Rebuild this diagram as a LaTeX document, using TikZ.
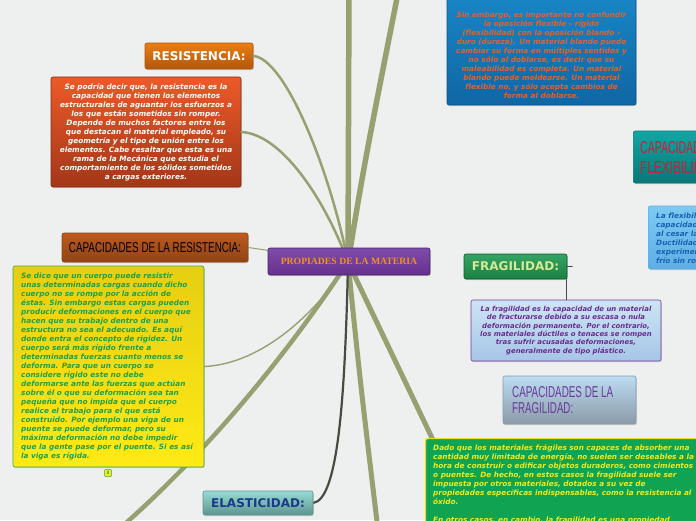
\documentclass[tikz,border=0pt]{standalone}
\usepackage{fontspec}
\usepackage{graphicx}
\setmainfont{DejaVu Sans}
\newfontfamily\tnr{Liberation Serif}
\newfontfamily\hnd{Liberation Sans}
\usetikzlibrary{shadows}
\definecolor{bgc}{HTML}{EEF0EF}
\definecolor{olivec}{HTML}{96A070}
\definecolor{darkc}{HTML}{4A4A42}
\definecolor{resT}{HTML}{EC7E10}
\definecolor{resB}{HTML}{B0560E}
\definecolor{rtT}{HTML}{EC5A28}
\definecolor{rtB}{HTML}{A43618}
\definecolor{crT}{HTML}{BE5A1E}
\definecolor{crB}{HTML}{8E4416}
\definecolor{yelT}{HTML}{E6CE12}
\definecolor{yelB}{HTML}{FFEA16}
\definecolor{yelE}{HTML}{3AA648}
\definecolor{yelTx}{HTML}{1FA04A}
\definecolor{cenT}{HTML}{7E4CAA}
\definecolor{cenB}{HTML}{66308E}
\definecolor{cenTx}{HTML}{F2921E}
\definecolor{bluT}{HTML}{1A8ACA}
\definecolor{bluB}{HTML}{1066A4}
\definecolor{bluTx}{HTML}{E8602A}
\definecolor{flcT}{HTML}{12A6A6}
\definecolor{flcB}{HTML}{0A7676}
\definecolor{flcTx}{HTML}{C42232}
\definecolor{fltT}{HTML}{7CCAF2}
\definecolor{fltB}{HTML}{5EAEE6}
\definecolor{fltTx}{HTML}{1A62B0}
\definecolor{frT}{HTML}{34A464}
\definecolor{frB}{HTML}{1A8042}
\definecolor{frTx}{HTML}{D8E894}
\definecolor{ftT}{HTML}{CCE4F4}
\definecolor{ftB}{HTML}{A6C6E6}
\definecolor{ftE}{HTML}{7A3A98}
\definecolor{ftTx}{HTML}{6A2A90}
\definecolor{fcT}{HTML}{BCDCF2}
\definecolor{fcB}{HTML}{8A9AA8}
\definecolor{fcTx}{HTML}{6A3A9C}
\definecolor{grF}{HTML}{10A452}
\definecolor{grE}{HTML}{E6E020}
\definecolor{grTx}{HTML}{F2EA1E}
\definecolor{elT}{HTML}{96DCD4}
\definecolor{elB}{HTML}{5E948E}
\definecolor{elTx}{HTML}{1A3A8A}
\tikzset{
  box/.style={rounded corners=2pt, line width=0.6pt, inner sep=0pt,
    drop shadow={shadow xshift=0.8pt, shadow yshift=-1.2pt, opacity=0.3}},
  body/.style={font=\fontsize{7.3}{9}\selectfont\bfseries\itshape, inner sep=0pt},
  title/.style={font=\fontsize{12}{12}\selectfont\bfseries},
  olive/.style={draw=olivec, line cap=round},
  darkl/.style={draw=darkc, line cap=round}
}
\begin{document}
\begin{tikzpicture}[x=1pt,y=-1pt]
\useasboundingbox[fill=bgc] (0,0) rectangle (696,520);
\coordinate (c) at (348,262);
\coordinate (top1) at (349,-12);
\coordinate (top2) at (399,-12);
\coordinate (ll) at (118,530);
\coordinate (bot) at (378,530);
% connectors
\draw[olive, line width=5.5pt] (c) -- (top1);
\draw[olive, line width=5.5pt] (c) .. controls (365,160) .. (top2);
\draw[olive, line width=4.5pt] (c) .. controls (290,350) and (210,450) .. (ll);
\draw[olive, line width=5pt] (c) .. controls (360,380) .. (bot);
\draw[olive, line width=5pt] (c) -- (433,440);
\draw[darkl, line width=2.2pt] (c) .. controls (345,400) and (338,500) .. (313,503);
\node[box, top color=resT, bottom color=resB, draw=resB, minimum width=108pt, minimum height=26pt, title, text=white] (res) at (199,56) {RESISTENCIA:};
\node[box, top color=rtT, bottom color=rtB, draw=rtB!80!black, minimum width=190pt, minimum height=110pt, body, align=center, text=white] (restext) at (146,132) {Se podría decir que, la resistencia es la\\capacidad que tienen los elementos\\estructurales de aguantar los esfuerzos a\\los que están sometidos sin romper.\\Depende de muchos factores entre los\\que destacan el material empleado, su\\geometría y el tipo de unión entre los\\elementos. Cabe resaltar que esta es una\\rama de la Mecánica que estudia el\\comportamiento de los sólidos sometidos\\a cargas exteriores.};
\draw[olive, line width=2.5pt] (res.east) .. controls (285,58) and (330,170) .. (c);
\draw[olive, line width=2.5pt] (restext.east) .. controls (282,134) and (325,200) .. (c);
\node[box, top color=crT, bottom color=crB, draw=crB, minimum width=186pt, minimum height=29pt] (capres) at (155,247.5) {\resizebox{172pt}{10pt}{\hnd CAPACIDADES DE LA RESISTENCIA:}};
\draw[olive, line width=1pt] (capres.east) -- (c);
\node[box, top color=yelT, bottom color=yelB, draw=yelE, minimum width=191pt, minimum height=201pt] (yel) at (108.5,366.5) {};
\draw[olive, line width=1.4pt] (yel.east) .. controls (262,364) and (318,312) .. (c);
\node[body, align=left, text=yelTx, anchor=west] (yeltxt) at (21,367) {Se dice que un cuerpo puede resistir\\unas determinadas cargas cuando dicho\\cuerpo no se rompe por la acción de\\éstas. Sin embargo estas cargas pueden\\producir deformaciones en el cuerpo que\\hacen que su trabajo dentro de una\\estructura no sea el adecuado. Es aquí\\donde entra el concepto de rigidez. Un\\cuerpo será más rígido frente a\\determinadas fuerzas cuanto menos se\\deforma. Para que un cuerpo se\\considere rígido este no debe\\deformarse ante las fuerzas que actúan\\sobre él o que su deformación sea tan\\pequeña que no impida que el cuerpo\\realice el trabajo para el que está\\construido. Por ejemplo una viga de un\\puente se puede deformar, pero su\\máxima deformación no debe impedir\\que la gente pase por el puente. Si es así\\la viga es rígida.};
\node[rounded corners=1pt, fill=yelB, draw=yelE, line width=0.5pt, minimum width=7pt, minimum height=7pt, inner sep=0pt, font=\fontsize{4.5}{5}\selectfont\bfseries, text=yelTx] (mark) at (108,473) {3};
\node[box, top color=cenT, bottom color=cenB, draw=cenB!70!black, minimum width=162pt, minimum height=27pt, font=\tnr\fontsize{9.7}{10}\selectfont\bfseries, text=cenTx] (cen) at (349,261.5) {PROPIADES DE LA MATERIA};
% top right blue box
\node[box, top color=bluT, bottom color=bluB, draw=bluB!80!black, minimum width=189pt, minimum height=125pt] (blu) at (541.5,42.5) {};
\node[body, align=center, text=bluTx] (blutxt) at (541.5,55.5) {Sin embargo, es importante no confundir\\la oposición flexible – rígido\\(flexibilidad) con la oposición blando –\\duro (dureza). Un material blando puede\\cambiar su forma en múltiples sentidos y\\no sólo al doblarse, es decir que su\\maleabilidad es completa. Un material\\blando puede moldearse. Un material\\flexible no, y sólo acepta cambios de\\forma al doblarse.};
% flexibility
\node[box, top color=flcT, bottom color=flcB, draw=flcB, minimum width=100pt, minimum height=52pt, anchor=west] (flc) at (633,157) {};
\node[inner sep=0pt, align=left, anchor=north west, text=flcTx, font=\fontsize{12}{20}\selectfont] (flctxt) at (640,141) {\resizebox{108pt}{12pt}{\hnd CAPACIDADES DE LA}\\\resizebox{82pt}{12pt}{\hnd FLEXIBILIDAD:}};
\node[box, top color=fltT, bottom color=fltB, draw=fltB, minimum width=110pt, minimum height=63pt, anchor=west] (flt) at (648,237.5) {};
\node[body, align=left, anchor=north west, text=fltTx] (flttxt) at (656,213) {La flexibilidad es la\\capacidad de un material de doblarse\\al cesar la fuerza que lo deforma.\\Ductilidad: propiedad de los materiales de\\experimentar deformaciones en\\frío sin romperse.};
% fragilidad
\node[box, top color=ftT, bottom color=ftB, draw=ftE, minimum width=190pt, minimum height=61pt, body, font=\fontsize{6.9}{8.3}\selectfont\bfseries\itshape, align=center, text=ftTx] (frt) at (566,330.5) {La fragilidad es la capacidad de un material\\de fracturarse debido a su escasa o nula\\deformación permanente. Por el contrario,\\los materiales dúctiles o tenaces se rompen\\tras sufrir acusadas deformaciones,\\generalmente de tipo plástico.};
\coordinate (fk) at (566,270);
\draw[darkl, line width=1pt] (fk) -- (fk |- frt.north);
\node[box, top color=frT, bottom color=frB, draw=frB!70!black, minimum width=103pt, minimum height=25pt, title, text=frTx] (fra) at (515.5,266.5) {FRAGILIDAD:};
\draw[darkl, line width=0.8pt] (fra.east) -- ++(5,0);
\node[box, top color=fcT, bottom color=fcB, draw=fcB, minimum width=133pt, minimum height=48pt] (frc) at (569.5,400) {};
\node[inner sep=0pt, align=left, anchor=north west, text=fcTx, font=\fontsize{11}{16}\selectfont] (frctxt) at (512,386) {\resizebox{101pt}{11pt}{\hnd CAPACIDADES DE LA}\\\resizebox{61pt}{11pt}{\hnd FRAGILIDAD:}};
% green box
\node[box, fill=grF, draw=grE, line width=1.2pt, minimum width=290pt, minimum height=110pt, anchor=north west] (grn) at (425,438) {};
\node[body, align=left, anchor=north west, text=grTx] (grntxt) at (433,444) {Dado que los materiales frágiles son capaces de absorber una\\cantidad muy limitada de energía, no suelen ser deseables a la\\hora de construir o edificar objetos duraderos, como cimientos\\o puentes. De hecho, en estos casos la fragilidad suele ser\\impuesta por otros materiales, dotados a su vez de\\propiedades específicas indispensables, como la resistencia al\\óxido.\\[9pt]En otros casos, en cambio, la fragilidad es una propiedad};
% elasticidad
\node[box, top color=elT, bottom color=elB, draw=elB, minimum width=110pt, minimum height=24pt, title, text=elTx] (ela) at (258,503) {ELASTICIDAD:};
\end{tikzpicture}
\end{document}
